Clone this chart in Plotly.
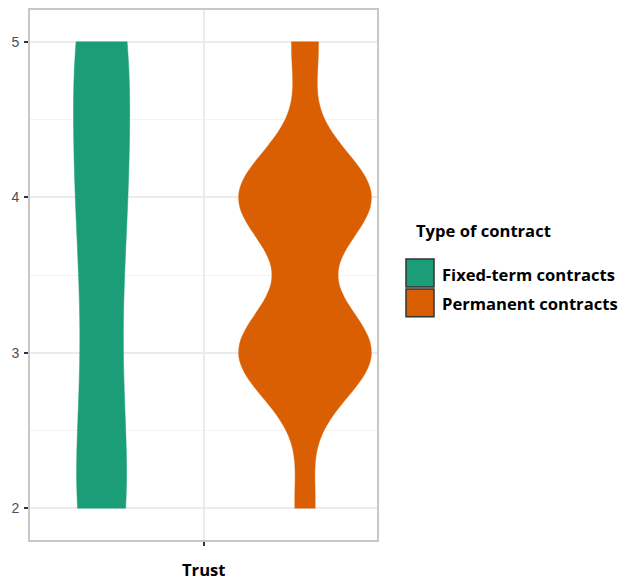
import plotly.graph_objects as go

# Trust scores (Likert 2-5) by type of contract, as response counts per level
trust_levels = [2, 3, 4, 5]
fixed_term_counts = [7, 4, 6, 7]
permanent_counts = [3, 20, 20, 4]

groups = ["Fixed-term contracts", "Permanent contracts"]
group_colors = ["#1b9e77", "#d95f02"]
kde_bandwidths = [0.6, 0.3]
y_ticks = [2, 3, 4, 5]
x_category = "Trust"


def expand(levels, counts):
    values = []
    for level, n in zip(levels, counts):
        values += [level] * n
    return values


samples = [expand(trust_levels, fixed_term_counts),
           expand(trust_levels, permanent_counts)]

# horizontal placement of the dodged violins on a 0.4-1.6 axis, and max widths
x_positions = [0.6476, 1.351]
violin_widths = [0.194, 0.4565]

fig = go.Figure()
for name, vals, color, bw, xpos, w in zip(groups, samples, group_colors,
                                          kde_bandwidths, x_positions, violin_widths):
    fig.add_trace(go.Violin(
        x0=xpos, y=vals, name=name, width=w, bandwidth=bw,
        spanmode="hard", scalemode="width", points=False,
        box_visible=False, meanline_visible=False,
        fillcolor=color, line=dict(color=color, width=0.5),
        opacity=1, showlegend=False, hoverinfo="skip", orientation="v",
    ))

# plot area in pixels: x 30..377, y 8..540
L, R, T, B = 30, 243, 8, 40
W, H = 620, 580
pw, ph = W - L - R, H - T - B


def px_x(x):
    return (x - L) / pw


def px_y(y):
    return (H - B - y) / ph


fig.update_layout(
    width=W, height=H,
    margin=dict(l=L, r=R, t=T, b=B),
    paper_bgcolor="white", plot_bgcolor="white",
    violinmode="overlay",
    font=dict(family="Liberation Sans, Arial, sans-serif", size=14, color="#4d4d4d"),
    xaxis=dict(
        type="linear", range=[0.4, 1.6], tickvals=[1], ticktext=[""],
        ticks="outside", ticklen=4, tickwidth=2, tickcolor="#333333",
        showgrid=True, gridcolor="#ebebeb", gridwidth=2, zeroline=False,
        showline=True, linecolor="#c8c8c8", linewidth=2, mirror=True,
        fixedrange=True,
    ),
    yaxis=dict(
        range=[1.795, 5.205], tickvals=y_ticks, ticktext=[str(v) for v in y_ticks],
        ticks="outside", ticklen=4, tickwidth=2, tickcolor="#333333",
        ticklabelstandoff=2,
        showgrid=True, gridcolor="#ebebeb", gridwidth=2, zeroline=False,
        minor=dict(tickvals=[2.5, 3.5, 4.5], showgrid=True,
                   gridcolor="#f3f3f3", gridwidth=1, ticks=""),
        showline=True, linecolor="#c8c8c8", linewidth=2, mirror=True,
        tickfont=dict(size=14, color="#4d4d4d"),
        fixedrange=True,
    ),
)

bold = "Open Sans, Noto Sans, sans-serif"
label_size = 16.6

# category label under the axis
fig.add_annotation(x=1, xref="x", y=px_y(570), yref="paper", text="<b>%s</b>" % x_category,
                   showarrow=False, xanchor="center", yanchor="middle",
                   font=dict(family=bold, size=label_size, color="#000000"))

# legend: title, colour keys and labels
fig.add_annotation(x=px_x(414), xref="paper", y=px_y(229), yref="paper",
                   text="<b>Type of contract</b>", showarrow=False,
                   xanchor="left", yanchor="middle",
                   font=dict(family=bold, size=label_size, color="#000000"))
key_tops = [258, 288]
for name, color, top in zip(groups, group_colors, key_tops):
    fig.add_shape(type="rect", xref="paper", yref="paper",
                  x0=px_x(406), x1=px_x(434), y0=px_y(top), y1=px_y(top + 28),
                  fillcolor=color, line=dict(color="#333333", width=1.5))
    fig.add_annotation(x=px_x(440), xref="paper", y=px_y(top + 15), yref="paper",
                       text="<b>%s</b>" % name, showarrow=False,
                       xanchor="left", yanchor="middle",
                       font=dict(family=bold, size=label_size, color="#000000"))

fig.write_html("out.html")
